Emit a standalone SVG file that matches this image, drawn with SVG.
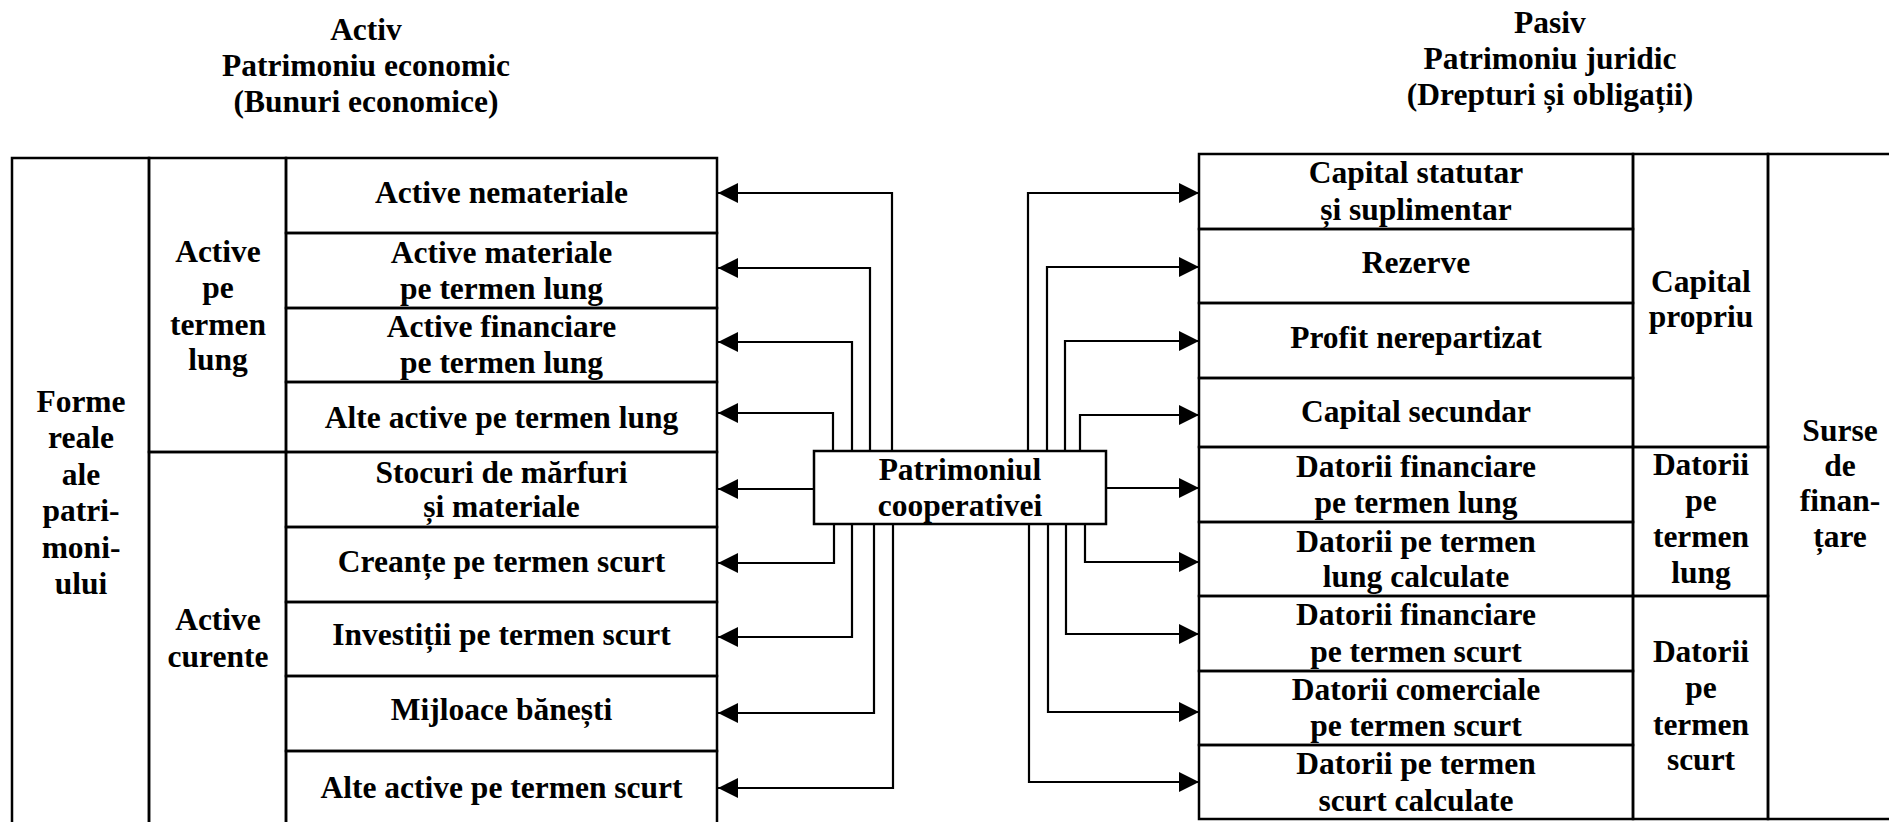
<svg xmlns="http://www.w3.org/2000/svg" width="1889" height="822" viewBox="0 0 1889 822">
  <style>
    .bg { fill: #ffffff; }
    .cell { fill: none; stroke: #000; stroke-width: 2.5; }
    .box { fill: #fff; stroke: #000; stroke-width: 2.5; }
    .t { font-family: "Liberation Serif", "Times New Roman", serif; font-weight: bold; font-size: 31.5px; fill: #000; text-anchor: middle; }
    .conn { fill: none; stroke: #000; stroke-width: 2.2; marker-end: url(#arrow); }
  </style>
  <defs>
    <marker id="arrow" markerUnits="userSpaceOnUse" markerWidth="22" markerHeight="22" refX="20" refY="10" orient="auto">
      <path d="M0,0 L20,10 L0,20 Z" fill="#000"/>
    </marker>
  </defs>

  <rect class="bg" x="0" y="0" width="1889" height="822"/>

  <!-- Column headings -->
  <g id="header-activ">
    <text class="t" x="366" y="40">Activ</text>
    <text class="t" x="366" y="76">Patrimoniu economic</text>
    <text class="t" x="366" y="112">(Bunuri economice)</text>
  </g>
  <g id="header-pasiv">
    <text class="t" x="1550" y="33">Pasiv</text>
    <text class="t" x="1550" y="69">Patrimoniu juridic</text>
    <text class="t" x="1550" y="105">(Drepturi și obligații)</text>
  </g>

  <!-- Asset side -->
  <g id="forme-reale">
    <rect class="cell" x="12" y="158" width="137" height="672"/>
    <text class="t" x="81" y="412">Forme</text>
    <text class="t" x="81" y="448">reale</text>
    <text class="t" x="81" y="485">ale</text>
    <text class="t" x="81" y="521">patri-</text>
    <text class="t" x="81" y="558">moni-</text>
    <text class="t" x="81" y="594">ului</text>
  </g>
  <g id="active-termen-lung">
    <rect class="cell" x="149" y="158" width="137" height="294"/>
    <text class="t" x="218" y="262">Active</text>
    <text class="t" x="218" y="298">pe</text>
    <text class="t" x="218" y="335">termen</text>
    <text class="t" x="218" y="370">lung</text>
  </g>
  <g id="active-curente">
    <rect class="cell" x="149" y="452" width="137" height="378"/>
    <text class="t" x="218" y="630">Active</text>
    <text class="t" x="218" y="667">curente</text>
  </g>
  <g id="active-nemateriale">
    <rect class="cell" x="286" y="158" width="431" height="75"/>
    <text class="t" x="501.5" y="203">Active nemateriale</text>
  </g>
  <g id="active-materiale">
    <rect class="cell" x="286" y="233" width="431" height="75"/>
    <text class="t" x="501.5" y="263">Active materiale</text>
    <text class="t" x="501.5" y="299">pe termen lung</text>
  </g>
  <g id="active-financiare">
    <rect class="cell" x="286" y="308" width="431" height="74"/>
    <text class="t" x="501.5" y="337">Active financiare</text>
    <text class="t" x="501.5" y="373">pe termen lung</text>
  </g>
  <g id="alte-active-lung">
    <rect class="cell" x="286" y="382" width="431" height="70"/>
    <text class="t" x="501.5" y="428">Alte active pe termen lung</text>
  </g>
  <g id="stocuri">
    <rect class="cell" x="286" y="452" width="431" height="75"/>
    <text class="t" x="501.5" y="483">Stocuri de mărfuri</text>
    <text class="t" x="501.5" y="517">și materiale</text>
  </g>
  <g id="creante">
    <rect class="cell" x="286" y="527" width="431" height="75"/>
    <text class="t" x="501.5" y="572">Creanțe pe termen scurt</text>
  </g>
  <g id="investitii">
    <rect class="cell" x="286" y="602" width="431" height="74"/>
    <text class="t" x="501.5" y="645">Investiții pe termen scurt</text>
  </g>
  <g id="mijloace-banesti">
    <rect class="cell" x="286" y="676" width="431" height="75"/>
    <text class="t" x="501.5" y="720">Mijloace bănești</text>
  </g>
  <g id="alte-active-scurt">
    <rect class="cell" x="286" y="751" width="431" height="79"/>
    <text class="t" x="501.5" y="798">Alte active pe termen scurt</text>
  </g>

  <!-- Liability side -->
  <g id="capital-statutar">
    <rect class="cell" x="1199" y="154" width="434" height="75"/>
    <text class="t" x="1416" y="183">Capital statutar</text>
    <text class="t" x="1416" y="220">și suplimentar</text>
  </g>
  <g id="rezerve">
    <rect class="cell" x="1199" y="229" width="434" height="74"/>
    <text class="t" x="1416" y="273">Rezerve</text>
  </g>
  <g id="profit">
    <rect class="cell" x="1199" y="303" width="434" height="75"/>
    <text class="t" x="1416" y="348">Profit nerepartizat</text>
  </g>
  <g id="capital-secundar">
    <rect class="cell" x="1199" y="378" width="434" height="69"/>
    <text class="t" x="1416" y="422">Capital secundar</text>
  </g>
  <g id="datorii-fin-lung">
    <rect class="cell" x="1199" y="447" width="434" height="75"/>
    <text class="t" x="1416" y="477">Datorii financiare</text>
    <text class="t" x="1416" y="513">pe termen lung</text>
  </g>
  <g id="datorii-calc-lung">
    <rect class="cell" x="1199" y="522" width="434" height="74"/>
    <text class="t" x="1416" y="552">Datorii pe termen</text>
    <text class="t" x="1416" y="587">lung calculate</text>
  </g>
  <g id="datorii-fin-scurt">
    <rect class="cell" x="1199" y="596" width="434" height="75"/>
    <text class="t" x="1416" y="625">Datorii financiare</text>
    <text class="t" x="1416" y="662">pe termen scurt</text>
  </g>
  <g id="datorii-com-scurt">
    <rect class="cell" x="1199" y="671" width="434" height="74"/>
    <text class="t" x="1416" y="700">Datorii comerciale</text>
    <text class="t" x="1416" y="736">pe termen scurt</text>
  </g>
  <g id="datorii-calc-scurt">
    <rect class="cell" x="1199" y="745" width="434" height="74"/>
    <text class="t" x="1416" y="774">Datorii pe termen</text>
    <text class="t" x="1416" y="811">scurt calculate</text>
  </g>
  <g id="capital-propriu">
    <rect class="cell" x="1633" y="154" width="135" height="293"/>
    <text class="t" x="1701" y="292">Capital</text>
    <text class="t" x="1701" y="327">propriu</text>
  </g>
  <g id="datorii-termen-lung">
    <rect class="cell" x="1633" y="447" width="135" height="149"/>
    <text class="t" x="1701" y="475">Datorii</text>
    <text class="t" x="1701" y="511">pe</text>
    <text class="t" x="1701" y="547">termen</text>
    <text class="t" x="1701" y="583">lung</text>
  </g>
  <g id="datorii-termen-scurt">
    <rect class="cell" x="1633" y="596" width="135" height="223"/>
    <text class="t" x="1701" y="662">Datorii</text>
    <text class="t" x="1701" y="698">pe</text>
    <text class="t" x="1701" y="735">termen</text>
    <text class="t" x="1701" y="770">scurt</text>
  </g>
  <g id="surse-finantare">
    <rect class="cell" x="1768" y="154" width="142" height="665"/>
    <text class="t" x="1840" y="441">Surse</text>
    <text class="t" x="1840" y="476">de</text>
    <text class="t" x="1840" y="511">finan-</text>
    <text class="t" x="1840" y="547">țare</text>
  </g>

  <!-- Connectors from the central node -->
  <g id="connectors">
    <path class="conn" d="M892,451 V193 H718"/>
    <path class="conn" d="M870,451 V268 H718"/>
    <path class="conn" d="M852,451 V342 H718"/>
    <path class="conn" d="M833,451 V413 H718"/>
    <path class="conn" d="M814,489 H718"/>
    <path class="conn" d="M834,524 V563 H718"/>
    <path class="conn" d="M852,524 V637 H718"/>
    <path class="conn" d="M874,524 V713 H718"/>
    <path class="conn" d="M893,524 V788 H718"/>

    <path class="conn" d="M1028,451 V193 H1199"/>
    <path class="conn" d="M1047,451 V267 H1199"/>
    <path class="conn" d="M1065,451 V341 H1199"/>
    <path class="conn" d="M1080,451 V415 H1199"/>
    <path class="conn" d="M1106,488 H1199"/>
    <path class="conn" d="M1085,524 V562 H1199"/>
    <path class="conn" d="M1066,524 V634 H1199"/>
    <path class="conn" d="M1048,524 V712 H1199"/>
    <path class="conn" d="M1029,524 V782 H1199"/>
  </g>

  <!-- Central node -->
  <g id="patrimoniul-cooperativei">
    <rect class="box" x="814" y="451" width="292" height="73"/>
    <text class="t" x="960" y="480">Patrimoniul</text>
    <text class="t" x="960" y="516">cooperativei</text>
  </g>
</svg>
